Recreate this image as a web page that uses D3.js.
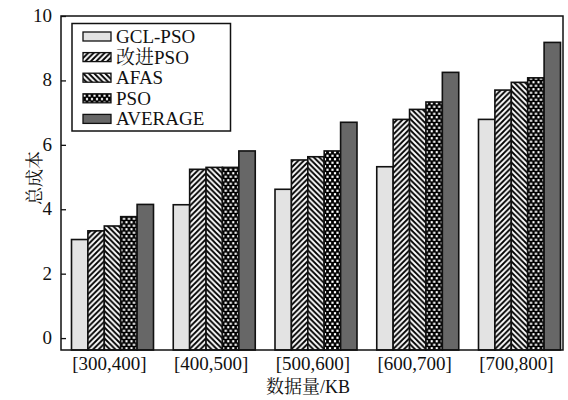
<!DOCTYPE html>
<html>
<head>
<meta charset="utf-8">
<script src="https://cdn.jsdelivr.net/npm/d3@7"></script>
<style>
  body { margin: 0; background: #fff; }
  text { font-family: "Liberation Serif", "Noto Serif CJK SC", "Noto Sans CJK SC", serif; fill: #111; }
</style>
</head>
<body>
<svg id="chart" width="568" height="400"></svg>
<script>
// data
var categories = ["[300,400]", "[400,500]", "[500,600]", "[600,700]", "[700,800]"];
var series = ["GCL-PSO", "改进PSO", "AFAS", "PSO", "AVERAGE"];
var gclPso   = [3.06, 4.14, 4.62, 5.32, 6.79];
var improved = [3.33, 5.24, 5.53, 6.79, 7.70];
var afas     = [3.48, 5.30, 5.63, 7.10, 7.94];
var pso      = [3.77, 5.30, 5.81, 7.33, 8.08];
var average  = [4.15, 5.81, 6.70, 8.25, 9.18];
var yTicks = [0, 2, 4, 6, 8, 10];

var values = [gclPso, improved, afas, pso, average];
var fills = ["#e3e3e3", "url(#hatch-fwd)", "url(#hatch-back)", "url(#hatch-cross)", "#676767"];

var svg = d3.select("#chart");
var plotLeft = 61, plotRight = 563, plotTop = 16, plotBottom = 350;

var y = d3.scaleLinear().domain([-0.37, 10]).range([plotBottom, plotTop]);
var x0 = d3.scalePoint().domain(categories).range([112.5, 519.5]);
var x1 = d3.scaleBand().domain(series).range([-41, 41]);

/*
* hatch patterns
*/
var defs = svg.append("defs");
var hp = 5.5; // hatch period

var fwd = defs.append("pattern").attr("id", "hatch-fwd")
  .attr("patternUnits", "userSpaceOnUse").attr("width", hp).attr("height", hp);
fwd.append("rect").attr("width", hp).attr("height", hp).attr("fill", "#fff");
fwd.append("path").attr("d", "M-1,1 l2,-2 M0," + hp + " l" + hp + ",-" + hp + " M" + (hp - 1) + "," + (hp + 1) + " l2,-2")
  .attr("stroke", "#000").attr("stroke-width", 1.9);

var back = defs.append("pattern").attr("id", "hatch-back")
  .attr("patternUnits", "userSpaceOnUse").attr("width", hp).attr("height", hp);
back.append("rect").attr("width", hp).attr("height", hp).attr("fill", "#fff");
back.append("path").attr("d", "M-1," + (hp - 1) + " l2,2 M0,0 l" + hp + "," + hp + " M" + (hp - 1) + ",-1 l2,2")
  .attr("stroke", "#000").attr("stroke-width", 1.9);

var cross = defs.append("pattern").attr("id", "hatch-cross")
  .attr("patternUnits", "userSpaceOnUse").attr("width", 5).attr("height", 7);
cross.append("rect").attr("width", 5).attr("height", 7).attr("fill", "#000");
cross.selectAll("rect.dot")
  .data([[1.5, 1.75], [4, 5.25], [-1, 5.25]])
  .enter().append("rect")
  .attr("class", "dot")
  .attr("x", function(d) { return d[0] - 1.1; })
  .attr("y", function(d) { return d[1] - 1.1; })
  .attr("width", 2.2).attr("height", 2.2)
  .attr("fill", "#fff");

/*
* bars
*/
var groups = svg.append("g").selectAll("g")
  .data(categories)
  .enter().append("g")
  .attr("transform", function(d) { return "translate(" + x0(d) + ",0)"; });

groups.selectAll("rect")
  .data(function(d, i) {
    return series.map(function(s, k) { return {s: s, k: k, v: values[k][i]}; });
  })
  .enter().append("rect")
  .attr("x", function(d) { return x1(d.s); })
  .attr("width", x1.bandwidth())
  .attr("y", function(d) { return y(d.v); })
  .attr("height", function(d) { return plotBottom - y(d.v); })
  .attr("fill", function(d) { return fills[d.k]; })
  .attr("stroke", "#111")
  .attr("stroke-width", 1.6);

/*
* frame and axes
*/
svg.append("rect")
  .attr("x", plotLeft).attr("y", plotTop)
  .attr("width", plotRight - plotLeft).attr("height", plotBottom - plotTop)
  .attr("fill", "none").attr("stroke", "#111").attr("stroke-width", 1.5);

var yAxis = svg.append("g")
  .attr("transform", "translate(" + plotLeft + ",0)")
  .call(d3.axisRight(y).tickValues(yTicks).tickSize(5).tickFormat(""));
yAxis.select(".domain").remove();
yAxis.selectAll("line").attr("stroke", "#111").attr("stroke-width", 1.3);

svg.append("g").selectAll("text")
  .data(yTicks)
  .enter().append("text")
  .attr("x", plotLeft - 9)
  .attr("y", function(d) { return y(d) + 6; })
  .attr("text-anchor", "end")
  .attr("font-size", 19)
  .text(function(d) { return d; });

svg.append("g").selectAll("text")
  .data(categories)
  .enter().append("text")
  .attr("x", function(d) { return x0(d) - 3; })
  .attr("y", 370)
  .attr("text-anchor", "middle")
  .attr("font-size", 19)
  .text(function(d) { return d; });

svg.append("text")
  .attr("x", 308).attr("y", 393)
  .attr("text-anchor", "middle")
  .attr("font-size", 18)
  .text("数据量/KB");

svg.append("text")
  .attr("transform", "translate(41,178) rotate(-90)")
  .attr("text-anchor", "middle")
  .attr("font-size", 18)
  .text("总成本");

/*
* legend
*/
var legend = svg.append("g");
legend.append("rect")
  .attr("x", 72).attr("y", 23.5)
  .attr("width", 158.5).attr("height", 107.5)
  .attr("fill", "#fff").attr("stroke", "#111").attr("stroke-width", 1.5);

var items = legend.selectAll("g.item")
  .data(series)
  .enter().append("g")
  .attr("class", "item")
  .attr("transform", function(d, i) { return "translate(83," + (32 + i * 20.6) + ")"; });

items.append("rect")
  .attr("width", 28).attr("height", 9)
  .attr("fill", function(d, i) { return fills[i]; })
  .attr("stroke", "#111").attr("stroke-width", 1.3);

items.append("text")
  .attr("x", 33).attr("y", 11)
  .attr("font-size", 19)
  .text(function(d) { return d; });
</script>
</body>
</html>
